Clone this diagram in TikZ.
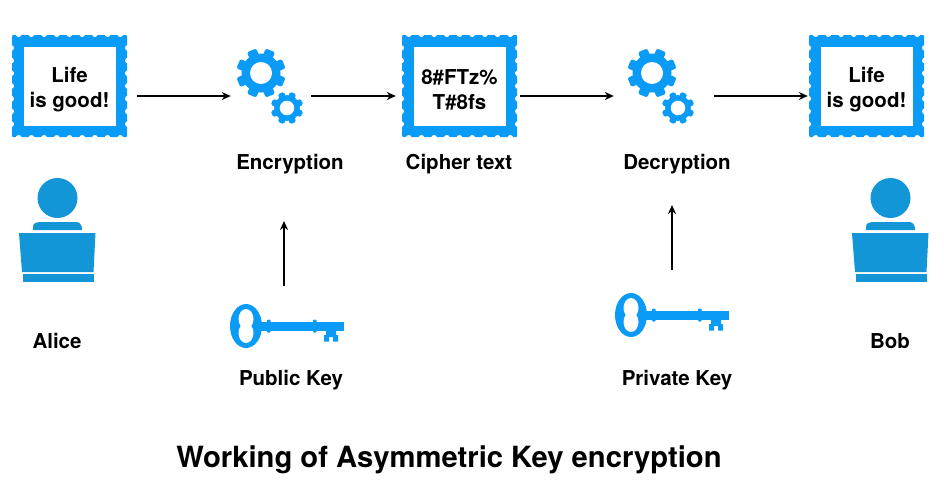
\documentclass[tikz,border=0pt]{standalone}
\usepackage{fontspec}
\setmainfont{TeX Gyre Heros}
\usepackage{xcolor}
\usetikzlibrary{arrows.meta,positioning,calc}
\definecolor{iconblue}{HTML}{0A9BF6}
\definecolor{userblue}{HTML}{1296D8}

\begin{document}
\begin{tikzpicture}[x=1pt,y=-1pt,
  stamptext/.style={align=center,font=\fontsize{20.5}{25}\selectfont\bfseries,minimum width=115pt,minimum height=102pt,inner sep=0pt},
  lbl/.style={font=\fontsize{20.5}{24}\selectfont\bfseries,inner sep=0pt},
  hub/.style={minimum width=68pt,minimum height=60pt,inner sep=0pt},
  keyhub/.style={minimum width=114pt,minimum height=44pt,inner sep=0pt},
  userhub/.style={minimum width=76pt,minimum height=104pt,inner sep=0pt},
  arr/.style={-{Stealth[length=9pt,width=8pt]},line width=1.5pt},
  pics/stamp/.style={code={
    \fill[iconblue,rounded corners=1pt] (-57.5,-51) rectangle (57.5,51);
    \foreach \i in {-4,...,4} {
      \fill[white] (\i*12.7,-52) circle (3);
      \fill[white] (\i*12.7,52) circle (3);
    }
    \foreach \i in {-3,...,3} {
      \fill[white] (-58.5,\i*12.7) circle (3);
      \fill[white] (58.5,\i*12.7) circle (3);
    }
    \fill[white] (-45.5,-39) rectangle (46.5,40);
  }},
  pics/gear/.style={code={
    \fill[iconblue] (0,0) circle (19.5);
    \foreach \a in {0,45,...,315}
      \fill[iconblue,rotate=\a+22.5,rounded corners=1.5pt] (-5,-24.5) rectangle (5,0);
    \fill[white] (0,0) circle (11);
  }},
  pics/keyicon/.style={code={
    \fill[iconblue] (0,0) ellipse (16 and 22);
    \fill[white] (0,-7) ellipse (7.5 and 10);
    \fill[white] (0,7) ellipse (7.5 and 10);
    \fill[iconblue] (14,-4.5) rectangle (98,4.5);
    \fill[iconblue,rounded corners=1pt] (21,-6.5) rectangle (24.5,6.5);
    \fill[iconblue,rounded corners=1pt] (67,-6.5) rectangle (70.5,6.5);
    \fill[iconblue] (80,4) -- (90,4) -- (90,9) -- (92,9) -- (92,15.5) -- (87,15.5) -- (87,11)
      -- (83,11) -- (83,15.5) -- (78,15.5) -- (78,9) -- (80,9) -- cycle;
  }},
  pics/usericon/.style={code={
    \fill[userblue] (0,-32) circle (20);
    \fill[userblue] (-24.5,0) -- (-24.5,-3) .. controls (-24.5,-7) and (-21,-8) .. (-18,-8)
      -- (18,-8) .. controls (21,-8) and (24.5,-7) .. (24.5,0) -- cycle;
    \fill[userblue] (-38.5,3) -- (38,3) -- (36,42) -- (-35.5,42) -- cycle;
    \fill[userblue] (-35,44) -- (36,44) -- (36,52) -- (-35,52) -- cycle;
  }}]
\useasboundingbox (0,0) rectangle (944,501);
% messages
\pic at (69.5,86) {stamp};
\pic at (459.5,86) {stamp};
\pic at (866.5,86) {stamp};
\node[stamptext] (msgA) at (69.5,90) {Life\\is good!};
\node[stamptext] (msgB) at (459.5,90) {8\#FTz\%\\T\#8fs};
\node[stamptext] (msgC) at (866.5,90) {Life\\is good!};
% gears
\pic at (261,73) {gear};
\pic[scale=.66] at (287,108) {gear};
\pic at (652,73) {gear};
\pic[scale=.66] at (678,108) {gear};
\node[hub] (gearA) at (271,96) {};
\node[hub] (gearB) at (661,96) {};
\node[lbl] (encA) at (290,164) {Encryption};
\node[lbl] (cipher) at (459,164) {Cipher text};
\node[lbl] (decA) at (677,164) {Decryption};
% people
\pic at (57.5,230) {usericon};
\pic at (890.5,230) {usericon};
\node[userhub] (alice) at (57.5,230) {};
\node[userhub] (bob) at (890.5,230) {};
\node[lbl] (aliceL) at (57,341) {Alice};
\node[lbl] (bobL) at (890,341) {Bob};
% keys
\pic at (246,326) {keyicon};
\pic at (631,315) {keyicon};
\node[keyhub] (keyA) at (287,326) {};
\node[keyhub] (keyB) at (672,315) {};
\node[lbl] (pubL) at (291,380) {Public Key};
\node[lbl] (privL) at (677,380) {Private Key};
\coordinate (upA) at (284,221);
\coordinate (upB) at (672,205);
% arrows
\draw[arr,shorten <=10pt,shorten >=6pt] (msgA.east |- gearA.west) -- (gearA.west);
\draw[arr,shorten <=6pt,shorten >=6pt] (gearA.east) -- (msgB.west |- gearA.east);
\draw[arr,shorten <=3pt,shorten >=13pt] (msgB.east |- gearB.west) -- (gearB.west);
\draw[arr,shorten <=19pt,shorten >=1pt] (gearB.east) -- (msgC.west |- gearB.east);
\draw[arr,shorten <=18pt] (keyA.north -| upA) -- (upA);
\draw[arr,shorten <=23pt] (keyB.north -| upB) -- (upB);
\node[font=\fontsize{29.2}{36}\selectfont\bfseries,inner sep=0pt] (title) at (449,460) {Working of Asymmetric Key encryption};
\end{tikzpicture}
\end{document}
